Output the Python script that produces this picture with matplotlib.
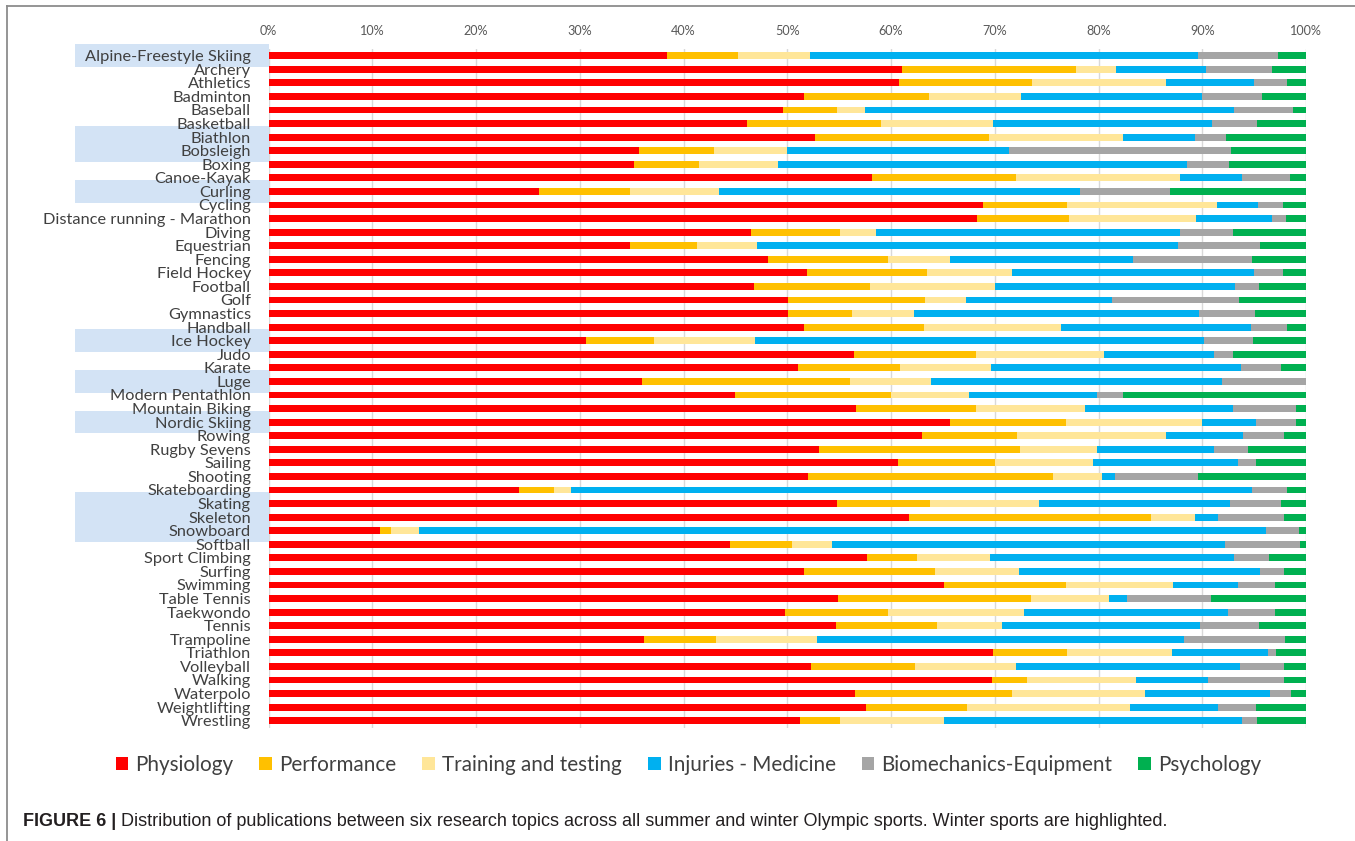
import matplotlib
matplotlib.use("Agg")
import matplotlib.pyplot as plt
import numpy as np
from matplotlib.patches import Rectangle, Patch
from matplotlib.transforms import blended_transform_factory
from matplotlib.lines import Line2D

plt.rcParams['font.family'] = ['Lato', 'DejaVu Sans']

# ---------------- data (percent of publications per topic) ----------------
sports = ["Alpine-Freestyle Skiing", "Archery", "Athletics", "Badminton", "Baseball",
          "Basketball", "Biathlon", "Bobsleigh", "Boxing", "Canoe-Kayak", "Curling",
          "Cycling", "Distance running - Marathon", "Diving", "Equestrian", "Fencing",
          "Field Hockey", "Football", "Golf", "Gymnastics", "Handball", "Ice Hockey",
          "Judo", "Karate", "Luge", "Modern Pentathlon", "Mountain Biking", "Nordic Skiing",
          "Rowing", "Rugby Sevens", "Sailing", "Shooting", "Skateboarding", "Skating",
          "Skeleton", "Snowboard", "Softball", "Sport Climbing", "Surfing", "Swimming",
          "Table Tennis", "Taekwondo", "Tennis", "Trampoline", "Triathlon", "Volleyball",
          "Walking", "Waterpolo", "Weightlifting", "Wrestling"]

winter_sports = ["Alpine-Freestyle Skiing", "Biathlon", "Bobsleigh", "Curling", "Ice Hockey",
                 "Luge", "Nordic Skiing", "Skating", "Skeleton", "Snowboard"]

topics = ["Physiology", "Performance", "Training and testing", "Injuries - Medicine",
          "Biomechanics-Equipment", "Psychology"]

physiology = [38.4, 61.1, 60.8, 51.6, 49.6, 46.1, 52.7, 35.7, 35.2, 58.2, 26.1, 68.9, 68.3,
              46.5, 34.8, 48.1, 51.9, 46.8, 50.1, 50.1, 51.6, 30.6, 56.4, 51.0, 36.0, 45.0,
              56.6, 65.7, 63.0, 53.1, 60.7, 52.0, 24.1, 54.8, 61.7, 10.7, 44.5, 57.7, 51.6,
              65.1, 54.9, 49.8, 54.7, 36.2, 69.8, 52.3, 69.7, 56.5, 57.6, 51.2]
performance = [6.9, 16.7, 12.8, 12.1, 5.2, 12.9, 16.7, 7.2, 6.3, 13.8, 8.7, 8.1, 8.9,
               8.6, 6.5, 11.6, 11.6, 11.2, 13.2, 6.1, 11.6, 6.6, 11.8, 9.9, 20.0, 15.0,
               11.6, 11.2, 9.1, 19.3, 9.3, 23.6, 3.4, 9.0, 23.4, 1.1, 6.0, 4.8, 12.6,
               11.8, 18.6, 9.9, 9.7, 6.9, 7.2, 10.0, 3.4, 15.2, 9.7, 3.9]
training = [6.9, 3.9, 12.9, 8.8, 2.7, 10.8, 13.0, 7.1, 7.6, 15.9, 8.6, 14.4, 12.2,
            3.5, 5.8, 6.0, 8.2, 12.0, 3.9, 6.0, 13.2, 9.7, 12.3, 8.7, 7.9, 7.5,
            10.5, 13.1, 14.4, 7.5, 9.5, 4.7, 1.7, 10.5, 4.2, 2.7, 3.8, 7.0, 8.1,
            10.3, 7.5, 13.1, 6.3, 9.8, 10.1, 9.7, 10.5, 12.8, 15.7, 10.0]
injuries = [37.4, 8.7, 8.5, 17.5, 35.6, 21.1, 6.9, 21.4, 39.4, 5.9, 34.8, 4.0, 7.3,
            29.3, 40.6, 17.6, 23.3, 23.2, 14.1, 27.5, 18.3, 43.3, 10.6, 24.1, 28.0, 12.4,
            14.3, 5.2, 7.4, 11.2, 13.9, 1.3, 65.6, 18.4, 2.2, 81.6, 37.9, 23.6, 23.3,
            6.2, 1.7, 19.7, 19.1, 35.3, 9.2, 21.6, 7.0, 12.0, 8.5, 28.7]
biomechanics = [7.7, 6.3, 3.2, 5.8, 5.6, 4.4, 3.0, 21.4, 4.1, 4.7, 8.7, 2.4, 1.4,
                5.1, 7.9, 11.5, 2.8, 2.3, 12.2, 5.4, 3.5, 4.7, 1.9, 3.9, 8.1, 2.5,
                6.0, 3.8, 4.0, 3.3, 1.8, 8.0, 3.4, 4.9, 6.4, 3.2, 7.2, 3.3, 2.3,
                3.6, 8.1, 4.5, 5.7, 9.8, 0.8, 4.3, 7.3, 2.1, 3.7, 1.5]
psychology = [2.7, 3.3, 1.8, 4.2, 1.3, 4.7, 7.7, 7.2, 7.4, 1.5, 13.1, 2.2, 1.9,
              7.0, 4.4, 5.2, 2.2, 4.5, 6.5, 4.9, 1.8, 5.1, 7.0, 2.4, 0.0, 17.6,
              1.0, 1.0, 2.1, 5.6, 4.8, 10.4, 1.8, 2.4, 2.1, 0.7, 0.6, 3.6, 2.1,
              3.0, 9.2, 3.0, 4.5, 2.0, 2.9, 2.1, 2.1, 1.4, 4.8, 4.7]

series = [physiology, performance, training, injuries, biomechanics, psychology]
colors = ["#ff0000", "#ffc000", "#ffe699", "#00b0f0", "#a5a5a5", "#00b050"]

caption_bold = "FIGURE 6 |"
caption_text = (" Distribution of publications between six research topics across all summer "
                "and winter Olympic sports. Winter sports are highlighted.")

# ---------------- layout ----------------
W, H = 1355, 841
fig = plt.figure(figsize=(W / 100, H / 100), dpi=100)
fig.patch.set_facecolor("white")


def fx(px):
    return px / W


def fy(py):
    return 1 - py / H


ax_left, ax_right, ax_top, ax_bot = 268.5, 1306, 48.9, 727.5
ax = fig.add_axes([fx(ax_left), fy(ax_bot), fx(ax_right) - fx(ax_left), fy(ax_top) - fy(ax_bot)])

n = len(sports)
ypos = np.arange(n)
left = np.zeros(n)
for name, vals, col in zip(topics, series, colors):
    vals = np.array(vals, dtype=float)
    ax.barh(ypos, vals, left=left, height=0.5, color=col, edgecolor="none",
            zorder=3, label=name)
    left += vals

ax.set_xlim(0, 100)
ax.set_ylim(n - 0.5, -0.5)
ticks = list(range(0, 101, 10))
ax.set_xticks(ticks)
ax.set_xticklabels([f"{t}%" for t in ticks])
ax.xaxis.tick_top()
ax.set_yticks(ypos)
ax.set_yticklabels(sports)
ax.tick_params(axis="x", length=0, pad=8.4, labelcolor="#595959", labelsize=9)
ax.tick_params(axis="y", length=0, pad=12.6, labelcolor="#404040", labelsize=12)
ax.grid(axis="x", color="#d9d9d9", linewidth=1.0, zorder=0)
ax.grid(axis="y", visible=False)
ax.set_axisbelow(True)
for s in ax.spines.values():
    s.set_visible(False)

fig.canvas.draw()
r = fig.canvas.get_renderer()

# fit label sizes
lab = ax.get_yticklabels()[0]
w = lab.get_window_extent(r).width
ax.tick_params(axis="y", labelsize=12 * 165 / w)
lab = ax.get_xticklabels()[-1]
w = lab.get_window_extent(r).width
ax.tick_params(axis="x", labelsize=9 * 32 / w)

# highlight boxes for winter sports (group contiguous rows)
trans = blended_transform_factory(fig.transFigure, ax.transData)
idx = [sports.index(s) for s in winter_sports]
groups = []
for i in sorted(idx):
    if groups and i == groups[-1][-1] + 1:
        groups[-1].append(i)
    else:
        groups.append([i])
for g in groups:
    y0 = g[0] - 0.84
    y1 = g[-1] + 0.82
    rect = Rectangle((fx(75), y0), fx(269) - fx(75), y1 - y0, transform=trans,
                     facecolor="#d3e3f5", edgecolor="none", clip_on=False, zorder=0)
    fig.add_artist(rect)

# legend
handles = [Patch(facecolor=c, edgecolor="none") for c in colors]
leg_fs = 14.0
leg = None
for _ in range(3):
    if leg is not None:
        leg.remove()
    leg = fig.legend(handles, topics, loc="center", bbox_to_anchor=(fx(688.5), fy(765)),
                     ncol=6, frameon=False, fontsize=leg_fs, handlelength=0.62,
                     handleheight=0.62, handletextpad=0.35, columnspacing=1.25,
                     labelcolor="#404040", borderpad=0, borderaxespad=0)
    fig.canvas.draw()
    bw = leg.get_window_extent(r).width
    leg_fs = leg_fs * 1143 / bw

# caption
cap_fs = 13.0
t1 = t2 = None
for _ in range(3):
    if t1 is not None:
        t1.remove(); t2.remove()
    t1 = fig.text(fx(23), fy(822), caption_bold, fontsize=cap_fs, fontweight="bold",
                  family=["Liberation Sans", "DejaVu Sans"], color="#231f20",
                  va="center", ha="left")
    fig.canvas.draw()
    e1 = t1.get_window_extent(r)
    t2 = fig.text(e1.x1 / W, fy(822), caption_text, fontsize=cap_fs,
                  family=["Liberation Sans", "DejaVu Sans"], color="#231f20",
                  va="center", ha="left")
    fig.canvas.draw()
    e2 = t2.get_window_extent(r)
    total = e2.x1 - e1.x0
    cap_fs = cap_fs * 1147 / total

# frame lines (top and left)
fig.add_artist(Line2D([fx(7), 1.0], [fy(6), fy(6)], color="#8c8c8c", lw=1.3,
                      transform=fig.transFigure))
fig.add_artist(Line2D([fx(7), fx(7)], [fy(6), 0.0], color="#8c8c8c", lw=1.3,
                      transform=fig.transFigure))

fig.savefig("out.png", dpi=100, facecolor="white")
